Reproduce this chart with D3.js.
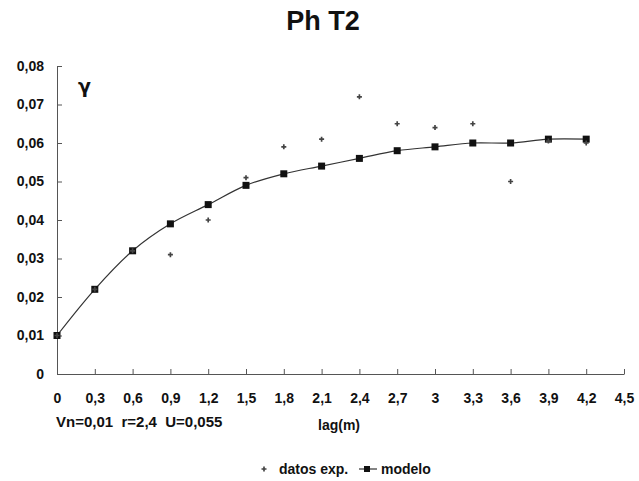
<!DOCTYPE html>
<html>
<head>
<meta charset="utf-8">
<script src="https://cdn.jsdelivr.net/npm/d3@7"></script>
<style>
  body { margin: 0; background: #fff; }
  svg text { font-family: "Liberation Sans", Arial, sans-serif; fill: #111; }
  .axis path, .axis line { stroke: #555; }
</style>
</head>
<body>
<div id="chart"></div>
<script>
// chart values
const lags = [0, 0.3, 0.6, 0.9, 1.2, 1.5, 1.8, 2.1, 2.4, 2.7, 3, 3.3, 3.6, 3.9, 4.2];
const datosExp = [0.010, 0.022, 0.032, 0.031, 0.040, 0.051, 0.059, 0.061, 0.072, 0.065, 0.064, 0.065, 0.050, 0.0605, 0.0600];
const modelo = [0.010, 0.022, 0.032, 0.039, 0.044, 0.049, 0.052, 0.054, 0.056, 0.058, 0.059, 0.060, 0.060, 0.061, 0.061];
const xTicks = [0, 0.3, 0.6, 0.9, 1.2, 1.5, 1.8, 2.1, 2.4, 2.7, 3, 3.3, 3.6, 3.9, 4.2, 4.5];
const yTicks = [0, 0.01, 0.02, 0.03, 0.04, 0.05, 0.06, 0.07, 0.08];

const width = 639, height = 481;
let padding = {top: 66, right: 15, bottom: 107, left: 57};

const svg = d3.select("#chart").append("svg")
  .attr("width", width)
  .attr("height", height);

const comma = d => String(d).replace(".", ",");

let x = d3.scaleLinear()
  .domain([0, 4.5])
  .range([padding.left, width - padding.right]);

let y = d3.scaleLinear()
  .domain([0, 0.08])
  .range([height - padding.bottom, padding.top]);

// axes, ticks pointing inside
svg.append("g")
  .attr("class", "axis x")
  .attr("transform", "translate(0," + y(0) + ")")
  .call(d3.axisBottom(x).tickValues(xTicks).tickSizeInner(-5).tickSizeOuter(0).tickPadding(19).tickFormat(comma))
  .call(g => g.selectAll("text").style("font-size", "14px").style("font-weight", "bold").attr("fill", "#111"));

svg.append("g")
  .attr("class", "axis y")
  .attr("transform", "translate(" + x(0) + ",0)")
  .call(d3.axisLeft(y).tickValues(yTicks).tickSizeInner(-5).tickSizeOuter(0).tickPadding(13).tickFormat(comma))
  .call(g => g.selectAll("text").style("font-size", "14px").style("font-weight", "bold").attr("fill", "#111"));

// model line (smoothed)
const pts = lags.map((l, i) => ({lag: l, exp: datosExp[i], mod: modelo[i]}));

svg.append("path")
  .datum(pts)
  .attr("fill", "none")
  .attr("stroke", "#333")
  .attr("stroke-width", 1.2)
  .attr("d", d3.line().curve(d3.curveCatmullRom).x(d => x(d.lag)).y(d => y(d.mod)));

svg.selectAll(".sq")
  .data(pts)
  .join("rect")
    .attr("class", "sq")
    .attr("x", d => x(d.lag) - 3.5)
    .attr("y", d => y(d.mod) - 3.5)
    .attr("width", 7)
    .attr("height", 7)
    .attr("fill", "#111");

// experimental points
const plus = d3.symbol().type(d3.symbolCross).size(14);
svg.selectAll(".exp")
  .data(pts)
  .join("path")
    .attr("class", "exp")
    .attr("transform", d => "translate(" + x(d.lag) + "," + y(d.exp) + ")")
    .attr("d", plus)
    .attr("fill", "#444");

// ------------ Title, labels, legend ----------------- //
svg.append("text")
  .attr("x", 323).attr("y", 30)
  .attr("text-anchor", "middle")
  .style("font-size", "27px").style("font-weight", "bold")
  .attr("fill", "#222")
  .text("Ph T2");

svg.append("text")
  .attr("x", 78).attr("y", 93)
  .style("font-family", "'DejaVu Sans', sans-serif")
  .style("font-size", "19px").style("font-weight", "bold")
  .text("γ");

svg.append("text")
  .attr("x", 56).attr("y", 427)
  .style("font-size", "15px").style("font-weight", "bold")
  .attr("xml:space", "preserve")
  .text("Vn=0,01  r=2,4  U=0,055");

svg.append("text")
  .attr("x", 318).attr("y", 430)
  .style("font-size", "14px").style("font-weight", "bold")
  .text("lag(m)");

const lg = svg.append("g").attr("transform", "translate(0,469)");
lg.append("path").attr("transform", "translate(264,0)").attr("d", plus).attr("fill", "#444");
lg.append("text").attr("x", 279).attr("y", 5)
  .style("font-size", "14px").style("font-weight", "bold").text("datos exp.");
lg.append("line").attr("x1", 359).attr("x2", 377).attr("y1", 0).attr("y2", 0)
  .attr("stroke", "#333").attr("stroke-width", 1.2);
lg.append("rect").attr("x", 364).attr("y", -3).attr("width", 6).attr("height", 6).attr("fill", "#111");
lg.append("text").attr("x", 381).attr("y", 5)
  .style("font-size", "14px").style("font-weight", "bold").text("modelo");
</script>
</body>
</html>
